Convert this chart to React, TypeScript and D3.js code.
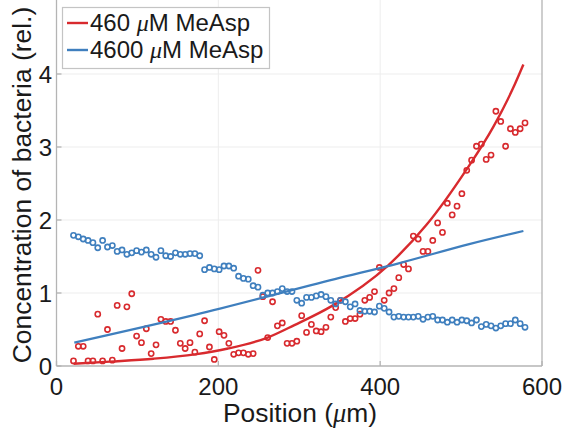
import React from "react";
import * as d3 from "d3";

// Position (µm) of each sample
const positions = [
  21, 27, 33, 39, 45, 51, 57, 63, 69, 75, 81, 87, 93, 99, 105, 111, 117, 123, 129, 135,
  141, 147, 153, 159, 165, 171, 177, 183, 189, 195, 201, 207, 213, 219, 225, 231, 237, 243, 249, 255,
  261, 267, 273, 279, 285, 291, 297, 303, 309, 315, 321, 327, 333, 339, 345, 351, 357, 363, 369, 375,
  381, 387, 393, 399, 405, 411, 417, 423, 429, 435, 441, 447, 453, 459, 465, 471, 477, 483, 489, 495,
  501, 507, 513, 519, 525, 531, 537, 543, 549, 555, 561, 567, 573, 579,
];

// 460 µM MeAsp measured concentration
const red460 = [
  0.07, 0.27, 0.27, 0.07, 0.07, 0.71, 0.07, 0.5, 0.08, 0.83, 0.24, 0.81, 0.99, 0.41, 0.32, 0.51, 0.17, 0.29, 0.64, 0.61,
  0.61, 0.49, 0.31, 0.24, 0.32, 0.19, 0.44, 0.62, 0.26, 0.09, 0.47, 0.42, 0.31, 0.16, 0.18, 0.18, 0.16, 0.17, 1.31, 0.95,
  0.39, 0.88, 0.55, 0.59, 0.31, 0.31, 0.34, 0.69, 0.46, 0.57, 0.48, 0.47, 0.53, 0.67, 0.8, 0.9, 0.61, 0.65, 0.65, 0.71,
  0.9, 0.94, 1.02, 1.35, 0.9, 1.0, 1.06, 1.21, 1.39, 1.33, 1.78, 1.74, 1.57, 1.57, 1.72, 1.96, 1.83, 2.23, 2.07, 2.19,
  2.36, 2.68, 2.82, 3.01, 3.04, 2.83, 2.89, 3.49, 3.35, 3.01, 3.25, 3.2, 3.25, 3.33,
];

// 4600 µM MeAsp measured concentration
const blue4600 = [
  1.79, 1.77, 1.74, 1.72, 1.69, 1.62, 1.72, 1.63, 1.65, 1.57, 1.59, 1.53, 1.55, 1.58, 1.56, 1.59, 1.53, 1.49, 1.58, 1.51,
  1.5, 1.55, 1.53, 1.53, 1.54, 1.54, 1.51, 1.32, 1.35, 1.33, 1.32, 1.37, 1.37, 1.34, 1.23, 1.2, 1.19, 1.1, 1.08, 0.97,
  1.0, 1.0, 1.02, 1.06, 1.02, 1.02, 0.9, 0.86, 0.94, 0.94, 0.96, 0.98, 0.95, 0.9, 0.85, 0.9, 0.88, 0.81, 0.85, 0.76,
  0.75, 0.75, 0.74, 0.82, 0.79, 0.74, 0.67, 0.68, 0.67, 0.67, 0.67, 0.68, 0.64, 0.67, 0.68, 0.63, 0.63, 0.6, 0.63, 0.6,
  0.63, 0.62, 0.59, 0.63, 0.54, 0.57, 0.55, 0.52, 0.55, 0.58, 0.58, 0.63, 0.58, 0.53,
];

// Fitted curves
const redFitX = [21, 66, 120, 171, 212, 261, 294, 340, 410, 457, 506, 540, 564, 577];
const redFitY = [0.03, 0.06, 0.1, 0.16, 0.24, 0.39, 0.56, 0.82, 1.38, 1.93, 2.68, 3.28, 3.8, 4.13];
const blueFitX = [22, 171, 344, 424, 510, 577];
const blueFitY = [0.32, 0.7, 1.19, 1.41, 1.67, 1.85];

const xTicks = [0, 200, 400, 600];
const yTicks = [0, 1, 2, 3, 4];

const RED = "#d82a2e";
const BLUE = "#3f7fbe";
const AXIS = "#b4b4b4";
const GRID = "#ededed";
const TEXT = "#1a1a1a";
const FONT = "'Liberation Sans', Arial, Helvetica, sans-serif";

export default function App() {
  const W = 564;
  const H = 436;
  const x = d3.scaleLinear().domain([0, 600]).range([56.5, 542]);
  const y = d3.scaleLinear().domain([0, 5]).range([366, 1]);
  const top = -2;

  const line = d3
    .line<[number, number]>()
    .x((d) => x(d[0]))
    .y((d) => y(d[1]))
    .curve(d3.curveMonotoneX);

  const redFit = redFitX.map((v, i) => [v, redFitY[i]] as [number, number]);
  const blueFit = blueFitX.map((v, i) => [v, blueFitY[i]] as [number, number]);

  const x0 = x(0);
  const x1 = x(600);
  const yb = y(0);

  return (
    <svg
      width={W}
      height={H}
      style={{ position: "absolute", left: 0, top: 0, background: "#fff" }}
      fontFamily={FONT}
    >
      <rect x={0} y={0} width={W} height={H} fill="#fff" />
      {/* grid */}
      {xTicks.slice(1, -1).map((t) => (
        <line key={"gx" + t} x1={x(t)} x2={x(t)} y1={top} y2={yb} stroke={GRID} strokeWidth={1} />
      ))}
      {yTicks.slice(1).map((t) => (
        <line key={"gy" + t} x1={x0} x2={x1} y1={y(t)} y2={y(t)} stroke={GRID} strokeWidth={1} />
      ))}
      {/* frame */}
      <line x1={x0} x2={x0} y1={top} y2={yb} stroke={AXIS} strokeWidth={1.3} />
      <line x1={x1} x2={x1} y1={top} y2={yb} stroke={AXIS} strokeWidth={1.3} />
      <line x1={x0} x2={x1} y1={yb} y2={yb} stroke={AXIS} strokeWidth={1.3} />
      {xTicks.map((t) => (
        <line key={"tx" + t} x1={x(t)} x2={x(t)} y1={yb} y2={yb - 5} stroke={AXIS} strokeWidth={1.3} />
      ))}
      {yTicks.map((t) => (
        <line key={"ty" + t} x1={x0} x2={x0 + 5} y1={y(t)} y2={y(t)} stroke={AXIS} strokeWidth={1.3} />
      ))}
      {/* tick labels */}
      {xTicks.map((t) => (
        <text key={"lx" + t} x={x(t)} y={395} textAnchor="middle" fontSize={24} fill={TEXT}>
          {t}
        </text>
      ))}
      {yTicks.map((t) => (
        <text key={"ly" + t} x={52} y={y(t) + 8.6} textAnchor="end" fontSize={24} fill={TEXT}>
          {t}
        </text>
      ))}
      {/* axis labels */}
      <text x={300} y={422} textAnchor="middle" fontSize={26.4} fill={TEXT}>
        Position (<tspan fontStyle="italic" fontFamily="'Liberation Serif', serif">μ</tspan>m)
      </text>
      <text
        transform={`translate(31,185) rotate(-90)`}
        textAnchor="middle"
        fontSize={26.4}
        fill={TEXT}
      >
        Concentration of bacteria (rel.)
      </text>
      {/* red data */}
      {positions.map((p, i) => (
        <circle key={"r" + i} cx={x(p)} cy={y(red460[i])} r={2.6} fill="none" stroke={RED} strokeWidth={1.6} />
      ))}
      <path d={line(redFit) || ""} fill="none" stroke={RED} strokeWidth={2.4} />
      {/* blue data */}
      {positions.map((p, i) => (
        <circle key={"b" + i} cx={x(p)} cy={y(blue4600[i])} r={2.6} fill="none" stroke={BLUE} strokeWidth={1.6} />
      ))}
      <path d={line(blueFit) || ""} fill="none" stroke={BLUE} strokeWidth={2.2} />
      {/* legend */}
      <rect x={62.5} y={7.5} width={207} height={61} fill="#fff" stroke="#c4c4c4" strokeWidth={1.2} />
      <line x1={67} x2={88} y1={23} y2={23} stroke={RED} strokeWidth={2.4} />
      <line x1={67} x2={88} y1={50} y2={50} stroke={BLUE} strokeWidth={2.4} />
      <text x={90} y={31} fontSize={24} fill={TEXT}>
        460 <tspan fontStyle="italic" fontFamily="'Liberation Serif', serif">μ</tspan>M MeAsp
      </text>
      <text x={90} y={58} fontSize={24} fill={TEXT}>
        4600 <tspan fontStyle="italic" fontFamily="'Liberation Serif', serif">μ</tspan>M MeAsp
      </text>
    </svg>
  );
}
